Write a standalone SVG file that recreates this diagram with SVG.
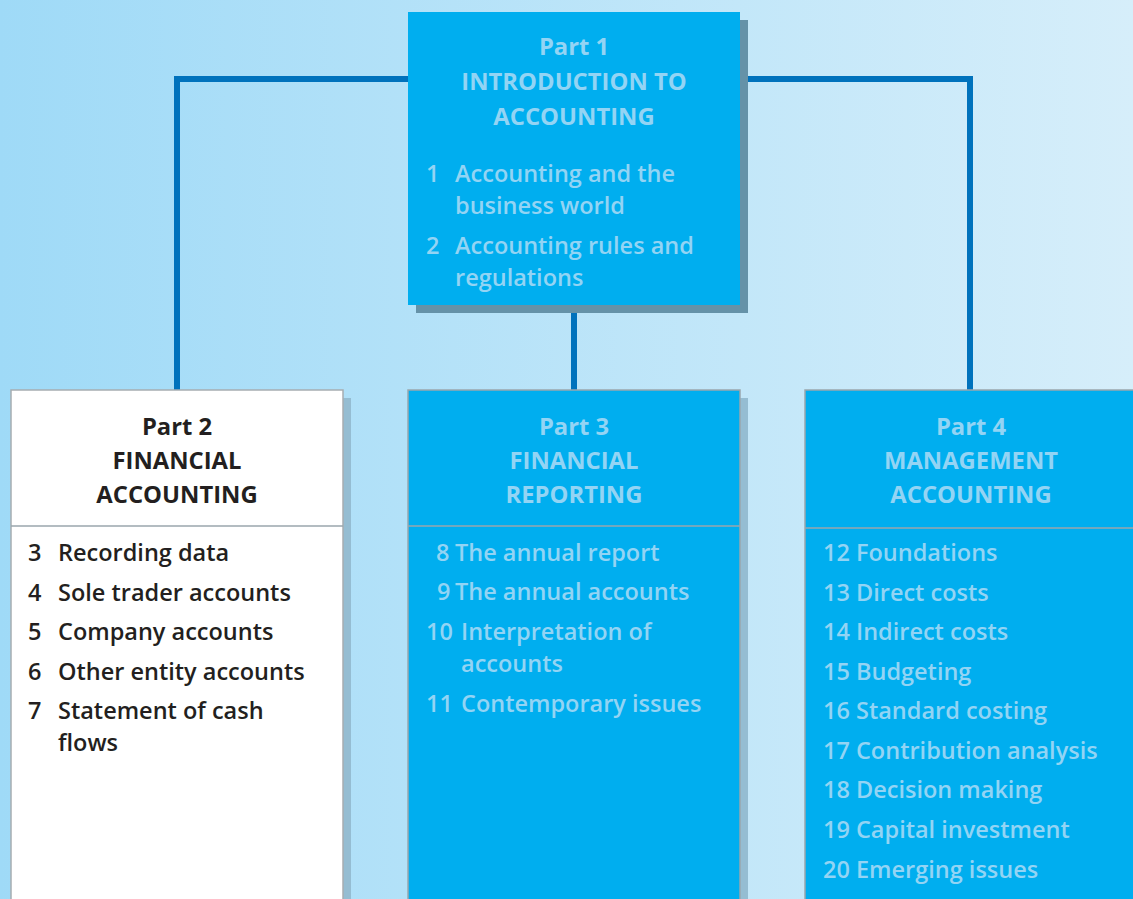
<svg xmlns="http://www.w3.org/2000/svg" width="1133" height="899" viewBox="0 0 1133 899">
  <defs>
    <linearGradient id="bg" x1="0" y1="0" x2="1" y2="0">
      <stop offset="0" stop-color="#9fdaf7"/>
      <stop offset="1" stop-color="#d6eefa"/>
    </linearGradient>
  </defs>
  <style>
    text { font-family: "Open Sans", "Noto Sans", sans-serif; font-weight: 600; font-size: 23.5px; }
    .light { fill: #93d4f4; }
    .dark { fill: #231f20; }
    .head { text-anchor: middle; font-weight: 700; font-size: 23.8px; }
    .box { fill: #00aeef; stroke: #9aa6ad; stroke-width: 1.5; }
    .white { fill: #ffffff; stroke: #a7adb1; stroke-width: 1.5; }
    .sep { stroke: #9aa6ad; stroke-width: 1.5; }
    .shadow { fill: #95bdd2; }
    .link { fill: none; stroke: #0072bc; stroke-width: 6; }
  </style>

  <rect x="0" y="0" width="1133" height="899" fill="url(#bg)"/>

  <!-- tree lines joining the parts -->
  <g id="connectors">
    <path class="link" d="M177,390 V79 H970 V390"/>
    <path class="link" d="M574,300 V390"/>
  </g>

  <!-- Part 1 -->
  <g id="part1">
    <rect x="416" y="20" width="332" height="293" fill="#6592a8"/>
    <rect x="408" y="12" width="332" height="293" fill="#00aeef"/>
    <text class="light head" x="574" y="55">Part 1</text>
    <text class="light head" x="574" y="90">INTRODUCTION TO</text>
    <text class="light head" x="574" y="125">ACCOUNTING</text>
    <text class="light" x="426" y="182">1</text>
    <text class="light" x="455" y="182">Accounting and the</text>
    <text class="light" x="455" y="214">business world</text>
    <text class="light" x="426" y="254">2</text>
    <text class="light" x="455" y="254">Accounting rules and</text>
    <text class="light" x="455" y="286">regulations</text>
  </g>

  <!-- Part 2 -->
  <g id="part2">
    <rect class="shadow" x="19" y="398" width="332" height="520"/>
    <rect class="white" x="11" y="390" width="332" height="520"/>
    <line class="sep" x1="11" y1="526" x2="343" y2="526"/>
    <text class="dark head" x="177" y="435">Part 2</text>
    <text class="dark head" x="177" y="469">FINANCIAL</text>
    <text class="dark head" x="177" y="503">ACCOUNTING</text>
    <text class="dark" x="28" y="561">3</text>
    <text class="dark" x="58" y="561">Recording data</text>
    <text class="dark" x="28" y="601">4</text>
    <text class="dark" x="58" y="601">Sole trader accounts</text>
    <text class="dark" x="28" y="640">5</text>
    <text class="dark" x="58" y="640">Company accounts</text>
    <text class="dark" x="28" y="680">6</text>
    <text class="dark" x="58" y="680">Other entity accounts</text>
    <text class="dark" x="28" y="719">7</text>
    <text class="dark" x="58" y="719">Statement of cash</text>
    <text class="dark" x="58" y="751">flows</text>
  </g>

  <!-- Part 3 -->
  <g id="part3">
    <rect class="shadow" x="416" y="398" width="332" height="520"/>
    <rect class="box" x="408" y="390" width="332" height="520"/>
    <line class="sep" x1="408" y1="526" x2="740" y2="526"/>
    <text class="light head" x="574" y="435">Part 3</text>
    <text class="light head" x="574" y="469">FINANCIAL</text>
    <text class="light head" x="574" y="503">REPORTING</text>
    <text class="light" x="436" y="561">8</text>
    <text class="light" x="455" y="561">The annual report</text>
    <text class="light" x="437" y="600">9</text>
    <text class="light" x="455" y="600">The annual accounts</text>
    <text class="light" x="426" y="640">10</text>
    <text class="light" x="461" y="640">Interpretation of</text>
    <text class="light" x="461" y="672">accounts</text>
    <text class="light" x="426" y="712">11</text>
    <text class="light" x="461" y="712">Contemporary issues</text>
  </g>

  <!-- Part 4 -->
  <g id="part4">
    <rect class="box" x="805" y="390" width="340" height="520"/>
    <line class="sep" x1="805" y1="528" x2="1133" y2="528"/>
    <text class="light head" x="971" y="435">Part 4</text>
    <text class="light head" x="971" y="469">MANAGEMENT</text>
    <text class="light head" x="971" y="503">ACCOUNTING</text>
    <text class="light" x="823" y="561">12 Foundations</text>
    <text class="light" x="823" y="601">13 Direct costs</text>
    <text class="light" x="823" y="640">14 Indirect costs</text>
    <text class="light" x="823" y="680">15 Budgeting</text>
    <text class="light" x="823" y="719">16 Standard costing</text>
    <text class="light" x="823" y="759">17 Contribution analysis</text>
    <text class="light" x="823" y="798">18 Decision making</text>
    <text class="light" x="823" y="838">19 Capital investment</text>
    <text class="light" x="823" y="878">20 Emerging issues</text>
  </g>
</svg>
